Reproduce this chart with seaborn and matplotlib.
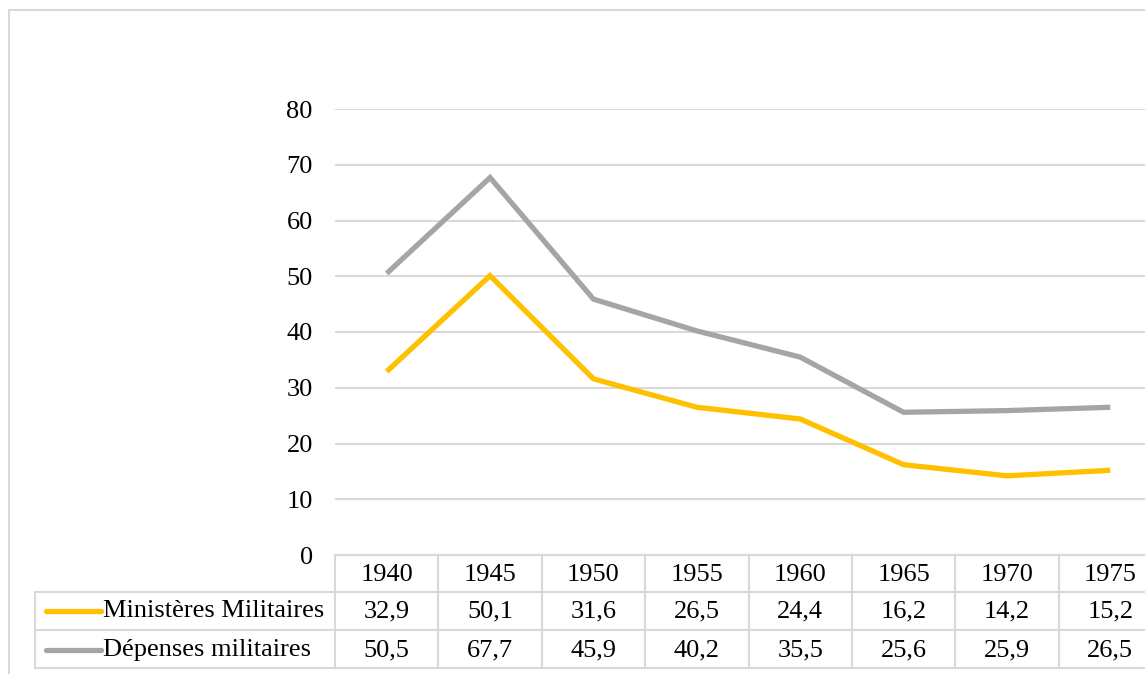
import matplotlib
matplotlib.use("Agg")
import matplotlib.pyplot as plt
import matplotlib.transforms as mtrans
from matplotlib.lines import Line2D
import seaborn as sns
import pandas as pd

years = [1940, 1945, 1950, 1955, 1960, 1965, 1970, 1975]
ministeres = [32.9, 50.1, 31.6, 26.5, 24.4, 16.2, 14.2, 15.2]
depenses = [50.5, 67.7, 45.9, 40.2, 35.5, 25.6, 25.9, 26.5]
series_names = ["Ministères Militaires", "Dépenses militaires"]
colors = ["#FFC000", "#A5A5A5"]
yticks = [0, 10, 20, 30, 40, 50, 60, 70, 80]

df = pd.DataFrame({
    "Année": years * 2,
    "Valeur": ministeres + depenses,
    "Série": [series_names[0]] * len(years) + [series_names[1]] * len(years),
})

sns.set_theme(style="white")
plt.rcParams["font.family"] = ["Liberation Serif", "DejaVu Serif"]

W, H = 1145, 674
FS = 19
fig = plt.figure(figsize=(W / 100, H / 100), dpi=100)
fig.patch.set_facecolor("white")

def fx(px):
    return px / W

def fy(py):
    return 1 - py / H

grid_c = "#D9D9D9"
left_px, right_px = 335, 1162
top_px, bot_px = 109, 555
ax = fig.add_axes([fx(left_px), fy(bot_px), fx(right_px) - fx(left_px), fy(top_px) - fy(bot_px)])

sns.lineplot(data=df, x="Année", y="Valeur", hue="Série", palette=colors,
             hue_order=series_names, linewidth=3.8, ax=ax, legend=False,
             solid_joinstyle="miter", solid_capstyle="butt")

step = years[1] - years[0]
ax.set_xlim(years[0] - step / 2, years[-1] + step / 2)
ax.set_ylim(0, 80)
ax.set_yticks(yticks)
ax.set_yticklabels([str(v) for v in yticks], fontsize=FS)
ax.set_xticks([])
ax.set_xlabel("")
ax.set_ylabel("")
ax.tick_params(axis="y", length=0, pad=16, colors="black")
ax.yaxis.grid(True, color=grid_c, linewidth=1.5)
ax.set_axisbelow(True)
for s in ["top", "right", "left"]:
    ax.spines[s].set_visible(False)
ax.spines["bottom"].set_color(grid_c)
ax.spines["bottom"].set_linewidth(1.5)

# data table
trans = mtrans.blended_transform_factory(ax.transData, fig.transFigure)
row_lines = [555, 592, 630, 668]
row_centers = [575, 611, 650]
table_left_px = 35

fig.add_artist(Line2D([fx(left_px), 1.02], [fy(555), fy(555)], color=grid_c, lw=1.5, transform=fig.transFigure))
for py in row_lines[1:]:
    fig.add_artist(Line2D([fx(table_left_px), 1.02], [fy(py), fy(py)], color=grid_c, lw=1.5, transform=fig.transFigure))
fig.add_artist(Line2D([fx(table_left_px)] * 2, [fy(592), fy(668)], color=grid_c, lw=1.5, transform=fig.transFigure))
bounds = [y - step / 2 for y in years] + [years[-1] + step / 2]
for b in bounds:
    fig.add_artist(Line2D([b, b], [fy(555), fy(668)], color=grid_c, lw=1.5, transform=trans))

for yr in years:
    fig.text(yr, fy(row_centers[0]), str(yr), transform=trans, ha="center", va="center",
             fontsize=FS, color="black")
for vals, rc in [(ministeres, row_centers[1]), (depenses, row_centers[2])]:
    for yr, v in zip(years, vals):
        fig.text(yr, fy(rc), f"{v:.1f}".replace(".", ","), transform=trans,
                 ha="center", va="center", fontsize=FS, color="black")

for name, c, rc in zip(series_names, colors, row_centers[1:]):
    fig.add_artist(Line2D([fx(46), fx(101)], [fy(rc), fy(rc)], color=c, lw=3.8,
                          solid_capstyle="round", transform=fig.transFigure))
    fig.text(fx(103), fy(rc), name, ha="left", va="center", fontsize=FS, color="black")

fig.add_artist(Line2D([fx(9), 1.02], [fy(10), fy(10)], color=grid_c, lw=1.5, transform=fig.transFigure))
fig.add_artist(Line2D([fx(9), fx(9)], [fy(10), -0.02], color=grid_c, lw=1.5, transform=fig.transFigure))

fig.savefig("out.png", dpi=100, facecolor="white")
